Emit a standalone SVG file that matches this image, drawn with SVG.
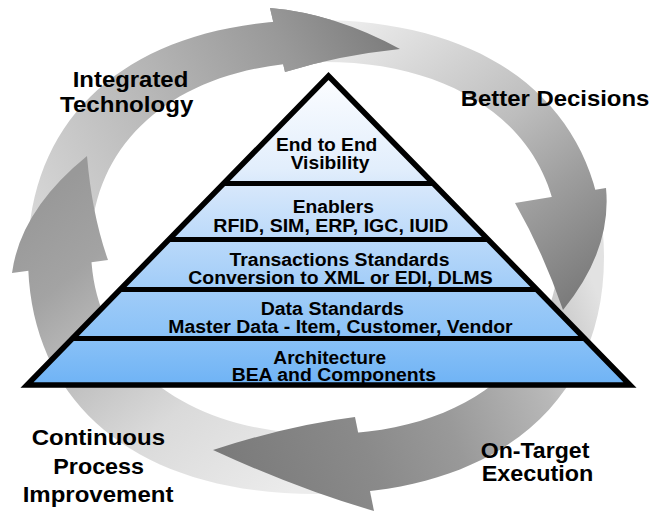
<svg xmlns="http://www.w3.org/2000/svg" width="651" height="512" viewBox="0 0 651 512">
<style>
.t{font-family:"Liberation Sans",Arial,Helvetica,sans-serif;font-weight:bold;fill:#000}
.pt{font-size:17.5px;text-anchor:middle}
.ot{font-size:22px}
.sep{stroke:#000;stroke-width:5;fill:none}
.band{fill:url(#gPyr)}
</style>
<defs>
<path id="ring" fill-rule="evenodd" d="M604 257C604 403.9 494.6 494 316 494C137.4 494 28 403.9 28 257C28 110.1 137.4 20 316 20C494.6 20 604 110.1 604 257Z M559 248C559 359.6 465.4 434 325 434C184.6 434 91 359.6 91 248C91 136.4 184.6 62 325 62C465.4 62 559 136.4 559 248Z"/>
<clipPath id="wA1" clipPathUnits="userSpaceOnUse"><polygon points="318,255 -81.8,241 20.7,-12.7 262.3,-141.1"/></clipPath>
<clipPath id="wA2" clipPathUnits="userSpaceOnUse"><polygon points="318,255 283.1,-143.5 600.8,-27.8 710.6,178.7"/></clipPath>
<clipPath id="wA3" clipPathUnits="userSpaceOnUse"><polygon points="318,255 714.1,199.3 624.4,512.1 387.5,648.9"/></clipPath>
<clipPath id="wA4" clipPathUnits="userSpaceOnUse"><polygon points="318,255 352.9,653.5 35.2,537.8 -82,255"/></clipPath>
<linearGradient id="gA1" gradientUnits="userSpaceOnUse" x1="45" y1="250" x2="400" y2="45">
<stop offset="0" stop-color="#d8d8d8"/><stop offset="0.45" stop-color="#b4b4b4"/><stop offset="0.75" stop-color="#999999"/><stop offset="1" stop-color="#7c7c7c"/>
</linearGradient>
<linearGradient id="gA2" gradientUnits="userSpaceOnUse" x1="340" y1="15" x2="565" y2="310">
<stop offset="0" stop-color="#efefef"/><stop offset="0.5" stop-color="#bdbdbd"/><stop offset="0.72" stop-color="#9e9e9e"/><stop offset="1" stop-color="#7a7a7a"/>
</linearGradient>
<linearGradient id="gA3" gradientUnits="userSpaceOnUse" x1="600" y1="300" x2="215" y2="450">
<stop offset="0" stop-color="#e2e2e2"/><stop offset="0.2" stop-color="#b8b8b8"/><stop offset="0.45" stop-color="#999999"/><stop offset="0.66" stop-color="#8a8a8a"/><stop offset="1" stop-color="#7a7a7a"/>
</linearGradient>
<linearGradient id="gA4" gradientUnits="userSpaceOnUse" x1="320" y1="470" x2="80" y2="170">
<stop offset="0" stop-color="#ececec"/><stop offset="0.35" stop-color="#dadada"/><stop offset="0.6" stop-color="#bdbdbd"/><stop offset="0.8" stop-color="#a3a3a3"/><stop offset="1" stop-color="#999999"/>
</linearGradient>
<linearGradient id="gPyr" gradientUnits="userSpaceOnUse" x1="0" y1="76" x2="0" y2="385">
<stop offset="0" stop-color="#fcfdff"/><stop offset="0.3" stop-color="#e2eefc"/><stop offset="0.36" stop-color="#d6e7fb"/><stop offset="0.52" stop-color="#bcdafa"/><stop offset="0.68" stop-color="#a2cdf8"/><stop offset="0.84" stop-color="#8bc2f7"/><stop offset="1" stop-color="#6fb3f5"/>
</linearGradient>
<path id="hA1" d="M270 8Q335 13.5 400 49Q337.5 55.5 285 72Z"/>
</defs>

<g id="connectors">
  <g id="arrow-integrated">
    <use href="#ring" fill="url(#gA1)" clip-path="url(#wA1)"/>
    <use href="#hA1" fill="url(#gA1)"/>
  </g>
  <g id="arrow-continuous">
    <use href="#ring" fill="url(#gA4)" clip-path="url(#wA4)"/>
    <path d="M12 273Q20.5 210 87 156Q92 215 108 260Z" fill="url(#gA4)"/>
  </g>
  <g id="arrow-ontarget">
    <use href="#ring" fill="url(#gA3)" clip-path="url(#wA3)"/>
    <path d="M374 511Q300 490 213 450Q290 425 355 417Z" fill="url(#gA3)"/>
  </g>
  <g id="arrow-better">
    <use href="#ring" fill="url(#gA2)" clip-path="url(#wA2)"/>
    <path d="M606 188Q612 250 563 310Q543 252 515 203Z" fill="url(#gA2)"/>
  </g>
  <use href="#hA1" fill="url(#gA1)"/>
</g>

<g id="pyramid">
  <g id="level-visibility">
    <polygon class="band" points="328.5,76 433.4,183.5 223.6,183.5"/>
    <text class="t pt" x="326.7" y="150.5" textLength="101.3" lengthAdjust="spacingAndGlyphs">End to End</text>
    <text class="t pt" x="330" y="169" textLength="78.7" lengthAdjust="spacingAndGlyphs">Visibility</text>
  </g>
  <g id="level-enablers">
    <polygon class="band" points="223.6,183.5 433.4,183.5 488,239.5 169,239.5"/>
    <text class="t pt" x="333.3" y="212.5" textLength="81.3" lengthAdjust="spacingAndGlyphs">Enablers</text>
    <text class="t pt" x="330.8" y="231.5" textLength="235" lengthAdjust="spacingAndGlyphs">RFID, SIM, ERP, IGC, IUID</text>
  </g>
  <g id="level-transactions">
    <polygon class="band" points="169,239.5 488,239.5 536.8,289.5 120.2,289.5"/>
    <text class="t pt" x="339.5" y="266" textLength="220" lengthAdjust="spacingAndGlyphs">Transactions Standards</text>
    <text class="t pt" x="340.5" y="283.8" textLength="304.4" lengthAdjust="spacingAndGlyphs">Conversion to XML or EDI, DLMS</text>
  </g>
  <g id="level-data">
    <polygon class="band" points="120.2,289.5 536.8,289.5 584.6,338.5 72.4,338.5"/>
    <text class="t pt" x="332.3" y="314.7" textLength="143.3" lengthAdjust="spacingAndGlyphs">Data Standards</text>
    <text class="t pt" x="340.5" y="332.7" textLength="344.4" lengthAdjust="spacingAndGlyphs">Master Data - Item, Customer, Vendor</text>
  </g>
  <g id="level-architecture">
    <polygon class="band" points="72.4,338.5 584.6,338.5 630,385 27,385"/>
    <text class="t pt" x="329.7" y="363.5" textLength="112.7" lengthAdjust="spacingAndGlyphs">Architecture</text>
    <text class="t pt" x="333.8" y="380.7" textLength="204.3" lengthAdjust="spacingAndGlyphs">BEA and Components</text>
  </g>
  <line class="sep" x1="223.6" y1="183.5" x2="433.4" y2="183.5"/>
  <line class="sep" x1="169" y1="239.5" x2="488" y2="239.5"/>
  <line class="sep" x1="120.2" y1="289.5" x2="536.8" y2="289.5"/>
  <line class="sep" x1="72.4" y1="338.5" x2="584.6" y2="338.5"/>
  <polygon points="328.5,76 630,385 27,385" fill="none" stroke="#000" stroke-width="5.5" stroke-linejoin="miter" stroke-miterlimit="10"/>
</g>

<g id="label-integrated">
  <text class="t ot" x="72.7" y="87.3" textLength="115.6" lengthAdjust="spacingAndGlyphs">Integrated</text>
  <text class="t ot" x="60" y="111.7" textLength="133.3" lengthAdjust="spacingAndGlyphs">Technology</text>
</g>
<g id="label-better">
  <text class="t ot" x="460.7" y="106" textLength="188.7" lengthAdjust="spacingAndGlyphs">Better Decisions</text>
</g>
<g id="label-continuous">
  <text class="t ot" x="31.7" y="445.3" textLength="133.3" lengthAdjust="spacingAndGlyphs">Continuous</text>
  <text class="t ot" x="53.3" y="474" textLength="90.7" lengthAdjust="spacingAndGlyphs">Process</text>
  <text class="t ot" x="22.7" y="501.7" textLength="150.7" lengthAdjust="spacingAndGlyphs">Improvement</text>
</g>
<g id="label-ontarget">
  <text class="t ot" x="480.7" y="458.3" textLength="108.7" lengthAdjust="spacingAndGlyphs">On-Target</text>
  <text class="t ot" x="481.7" y="480.7" textLength="111.7" lengthAdjust="spacingAndGlyphs">Execution</text>
</g>
</svg>
